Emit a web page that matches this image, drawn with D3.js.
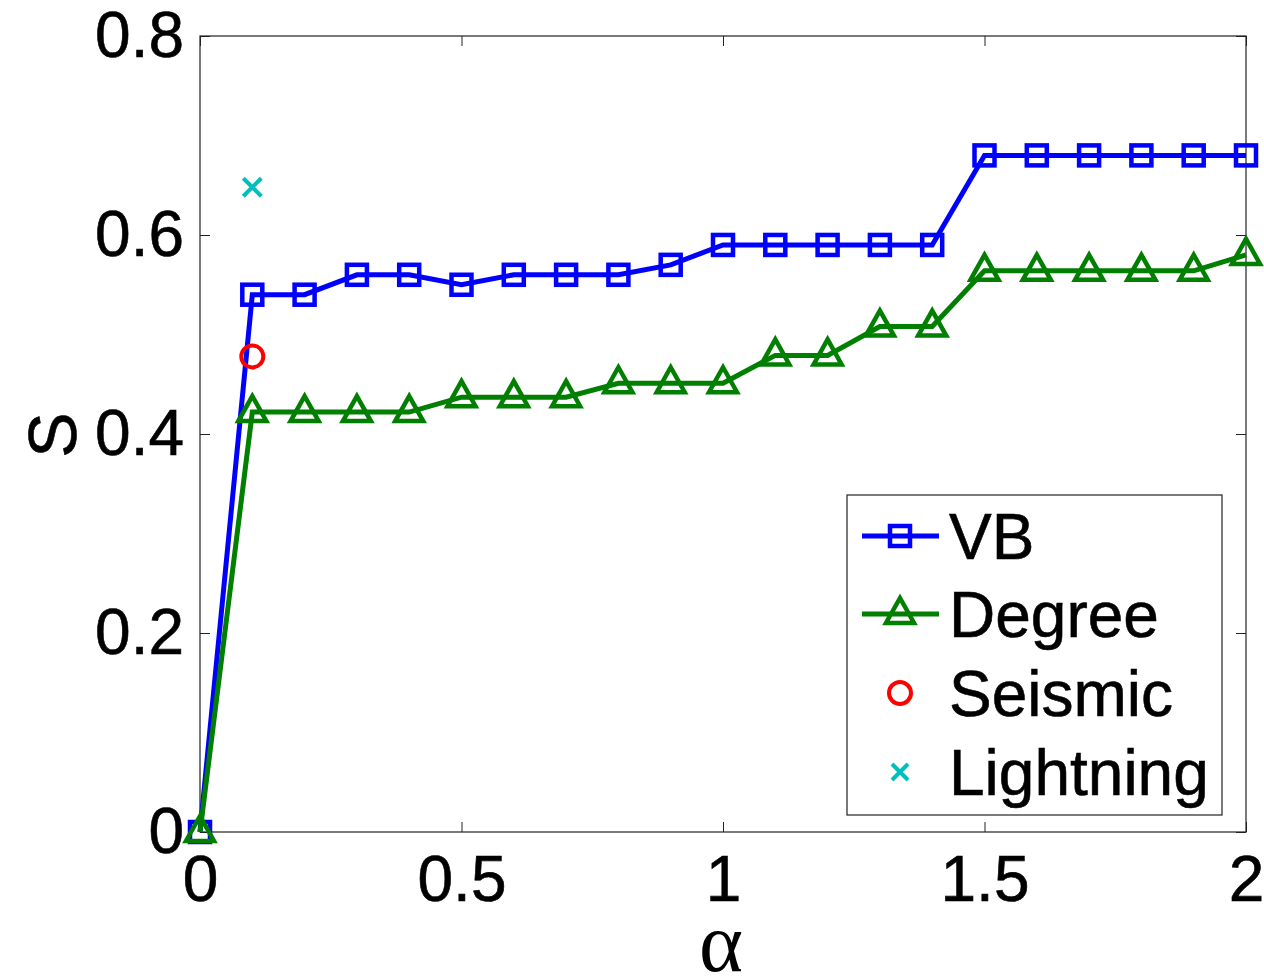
<!DOCTYPE html>
<html>
<head>
<meta charset="utf-8">
<script src="https://cdn.jsdelivr.net/npm/d3@7"></script>
<style>
  body { margin: 0; background: #fff; }
  text { font-family: "Liberation Sans", Arial, sans-serif; }
</style>
</head>
<body>
<svg id="chart" width="1264" height="977"></svg>
<script>
var alphas = [0, 0.1, 0.2, 0.3, 0.4, 0.5, 0.6, 0.7, 0.8, 0.9, 1.0,
              1.1, 1.2, 1.3, 1.4, 1.5, 1.6, 1.7, 1.8, 1.9, 2.0];
var vbValues = [0, 0.54, 0.54, 0.56, 0.56, 0.55, 0.56, 0.56, 0.56, 0.57, 0.59,
                0.59, 0.59, 0.59, 0.59, 0.68, 0.68, 0.68, 0.68, 0.68, 0.68];
var degreeValues = [0, 0.422, 0.422, 0.422, 0.422, 0.437, 0.437, 0.437, 0.451, 0.451, 0.451,
                    0.479, 0.479, 0.508, 0.508, 0.564, 0.564, 0.564, 0.564, 0.564, 0.58];
var seismicPoint = [0.1, 0.478];
var lightningPoint = [0.1, 0.648];
var xTicks = [0, 0.5, 1, 1.5, 2];
var yTicks = [0, 0.2, 0.4, 0.6, 0.8];
var legendLabels = ["VB", "Degree", "Seismic", "Lightning"];

var svg = d3.select("#chart");
var plotLeft = 200, plotRight = 1246, plotTop = 36, plotBottom = 832;

var x = d3.scaleLinear().domain([0, 2]).range([plotLeft, plotRight]);
var y = d3.scaleLinear().domain([0, 0.8]).range([plotBottom, plotTop]);

// axes box with inward ticks
var tickLen = 10;
svg.append("g").attr("transform", "translate(0," + plotBottom + ")")
   .call(d3.axisBottom(x).tickValues(xTicks).tickSize(-tickLen).tickPadding(24).tickFormat(d3.format("")))
   .call(g => g.select(".domain").remove());
svg.append("g").attr("transform", "translate(0," + plotTop + ")")
   .call(d3.axisTop(x).tickValues(xTicks).tickSize(-tickLen).tickFormat(""))
   .call(g => g.select(".domain").remove());
svg.append("g").attr("transform", "translate(" + plotLeft + ",0)")
   .call(d3.axisLeft(y).tickValues(yTicks).tickSize(-tickLen).tickPadding(16).tickFormat(d3.format("")))
   .call(g => g.select(".domain").remove());
svg.append("g").attr("transform", "translate(" + plotRight + ",0)")
   .call(d3.axisRight(y).tickValues(yTicks).tickSize(-tickLen).tickFormat(""))
   .call(g => g.select(".domain").remove());

svg.selectAll(".tick line").attr("stroke", "#222");
svg.selectAll(".tick text")
   .attr("font-family", "Liberation Sans, Arial, sans-serif")
   .attr("font-size", "64px")
   .attr("fill", "#000")
   .attr("stroke", "#000").attr("stroke-width", 0.6);

svg.append("rect")
   .attr("x", plotLeft).attr("y", plotTop)
   .attr("width", plotRight - plotLeft).attr("height", plotBottom - plotTop)
   .attr("fill", "none").attr("stroke", "#222").attr("stroke-width", 1.2);

// axis labels
svg.append("text")
   .attr("transform", "translate(76,435) rotate(-90)")
   .attr("text-anchor", "middle")
   .attr("font-size", "68px")
   .attr("stroke", "#000").attr("stroke-width", 0.6)
   .text("S");
svg.append("text")
   .attr("x", 721).attr("y", 971)
   .attr("text-anchor", "middle")
   .style("font-family", "'Liberation Serif', 'DejaVu Serif', serif")
   .attr("font-size", "84px")
   .text("α");

var line = d3.line().x((d, i) => x(alphas[i])).y(d => y(d));

function squareMarker(g, cx, cy, color) {
  g.append("rect")
   .attr("x", cx - 10).attr("y", cy - 10)
   .attr("width", 20).attr("height", 20)
   .attr("fill", "none").attr("stroke", color).attr("stroke-width", 4.5);
}
function triMarker(g, cx, cy, color) {
  g.append("path")
   .attr("d", "M" + cx + "," + (cy - 16) + "L" + (cx + 14) + "," + (cy + 9) + "L" + (cx - 14) + "," + (cy + 9) + "Z")
   .attr("fill", "none").attr("stroke", color).attr("stroke-width", 4.5)
   .attr("stroke-linejoin", "miter");
}

var blue = "#0000ff", green = "#007f00", red = "#ff0000", cyan = "#00bfbf";

svg.append("path").datum(vbValues)
   .attr("d", line).attr("fill", "none").attr("stroke", blue).attr("stroke-width", 5);
var vbG = svg.append("g");
vbValues.forEach((v, i) => squareMarker(vbG, x(alphas[i]), y(v), blue));

svg.append("path").datum(degreeValues)
   .attr("d", line).attr("fill", "none").attr("stroke", green).attr("stroke-width", 5);
var degG = svg.append("g");
degreeValues.forEach((v, i) => triMarker(degG, x(alphas[i]), y(v), green));

svg.append("circle")
   .attr("cx", x(seismicPoint[0])).attr("cy", y(seismicPoint[1])).attr("r", 11)
   .attr("fill", "none").attr("stroke", red).attr("stroke-width", 4);

function crossMarker(g, cx, cy, s) {
  g.append("path")
   .attr("d", "M" + (cx - s) + "," + (cy - s) + "L" + (cx + s) + "," + (cy + s) +
              "M" + (cx - s) + "," + (cy + s) + "L" + (cx + s) + "," + (cy - s))
   .attr("stroke", cyan).attr("stroke-width", 4);
}
crossMarker(svg, x(lightningPoint[0]), y(lightningPoint[1]), 9);

// legend
var lg = svg.append("g");
lg.append("rect")
  .attr("x", 847).attr("y", 495).attr("width", 375).attr("height", 320)
  .attr("fill", "#fff").attr("stroke", "#222").attr("stroke-width", 1.2);
var rowY = [536, 614, 693, 772];
legendLabels.forEach((label, i) => {
  var cy = rowY[i];
  if (i < 2) {
    lg.append("line").attr("x1", 862).attr("x2", 939).attr("y1", cy).attr("y2", cy)
      .attr("stroke", i === 0 ? blue : green).attr("stroke-width", 5);
  }
  if (i === 0) squareMarker(lg, 900, cy, blue);
  if (i === 1) triMarker(lg, 900, cy, green);
  if (i === 2) lg.append("circle").attr("cx", 900).attr("cy", cy).attr("r", 11)
                 .attr("fill", "none").attr("stroke", red).attr("stroke-width", 4);
  if (i === 3) crossMarker(lg, 900, cy, 8);
  lg.append("text").attr("x", 949).attr("y", cy + 23)
    .attr("font-size", "64px")
    .attr("stroke", "#000").attr("stroke-width", 0.6)
    .text(label);
});
</script>
</body>
</html>
